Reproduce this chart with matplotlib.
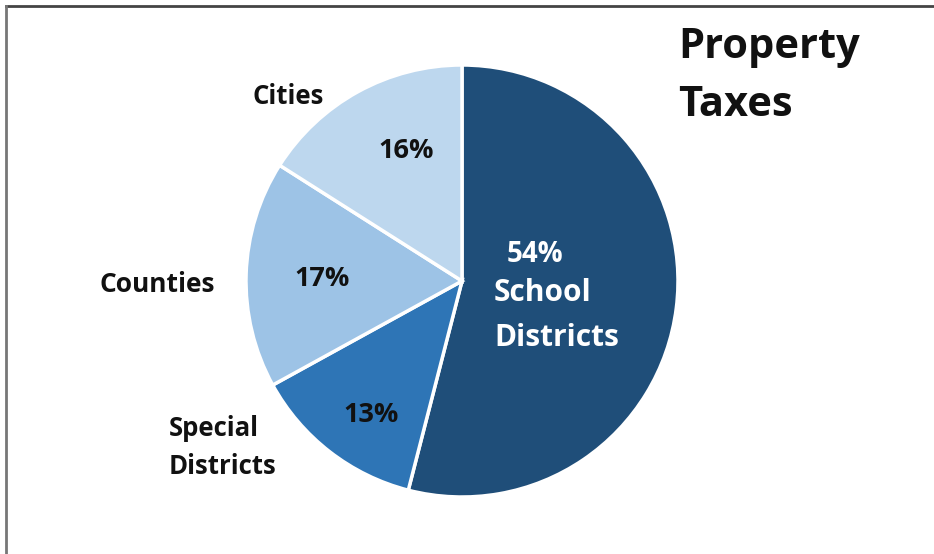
import matplotlib
matplotlib.use("Agg")
import matplotlib.pyplot as plt
from matplotlib.lines import Line2D

categories = ["School Districts", "Special Districts", "Counties", "Cities"]
shares = [54, 13, 17, 16]
colors = ["#1F4E79", "#2E75B6", "#9DC3E6", "#BDD7EE"]
title_lines = ["Property", "Taxes"]

W, H = 934, 554
fig = plt.figure(figsize=(W / 100, H / 100), dpi=100)
fig.patch.set_facecolor("white")
FONT = "Open Sans"

cx, cy, r = 462, 281, 216
ax = fig.add_axes([(cx - r) / W, (H - cy - r) / H, 2 * r / W, 2 * r / H])
ax.pie(shares, colors=colors, startangle=90, counterclock=False, radius=1,
       wedgeprops=dict(edgecolor="white", linewidth=2.5))
ax.set_xlim(-1, 1)
ax.set_ylim(-1, 1)
ax.set_aspect("equal")
ax.axis("off")


def px(x, y):
    return ((x - cx) / r, (cy - y) / r)


def put(x, y, s, size, color="#111111", ha="center"):
    dx, dy = px(x, y)
    ax.text(dx, dy, s, fontsize=size, fontweight="bold", family=FONT,
            color=color, ha=ha, va="center", clip_on=False)


# outer labels
put(288, 96, "Cities", 18.5)
put(157, 284, "Counties", 19)
put(169, 429, "Special", 18.5, ha="left")
put(169, 467, "Districts", 18.5, ha="left")

# percentages
put(406, 151, f"{shares[3]}%", 19.5)
put(322, 279, f"{shares[2]}%", 19.5)
put(371, 415, f"{shares[1]}%", 19.5)
put(507, 255, f"{shares[0]}%", 20, color="white", ha="left")
put(494, 293, "School", 21.5, color="white", ha="left")
put(494, 338, "Districts", 21.5, color="white", ha="left")

# title
fig.text(678 / W, 1 - 47 / H, title_lines[0], fontsize=30, fontweight="bold",
         family=FONT, color="#111111", ha="left", va="center")
fig.text(678 / W, 1 - 105 / H, title_lines[1], fontsize=30, fontweight="bold",
         family=FONT, color="#111111", ha="left", va="center")

# frame lines (top and left)
fig.add_artist(Line2D([6 / W, 1], [1 - 6 / H, 1 - 6 / H], color="#444444",
                      linewidth=2, transform=fig.transFigure))
fig.add_artist(Line2D([6 / W, 6 / W], [0, 1 - 6 / H], color="#777777",
                      linewidth=2, transform=fig.transFigure))

fig.savefig("out.png", dpi=100)
